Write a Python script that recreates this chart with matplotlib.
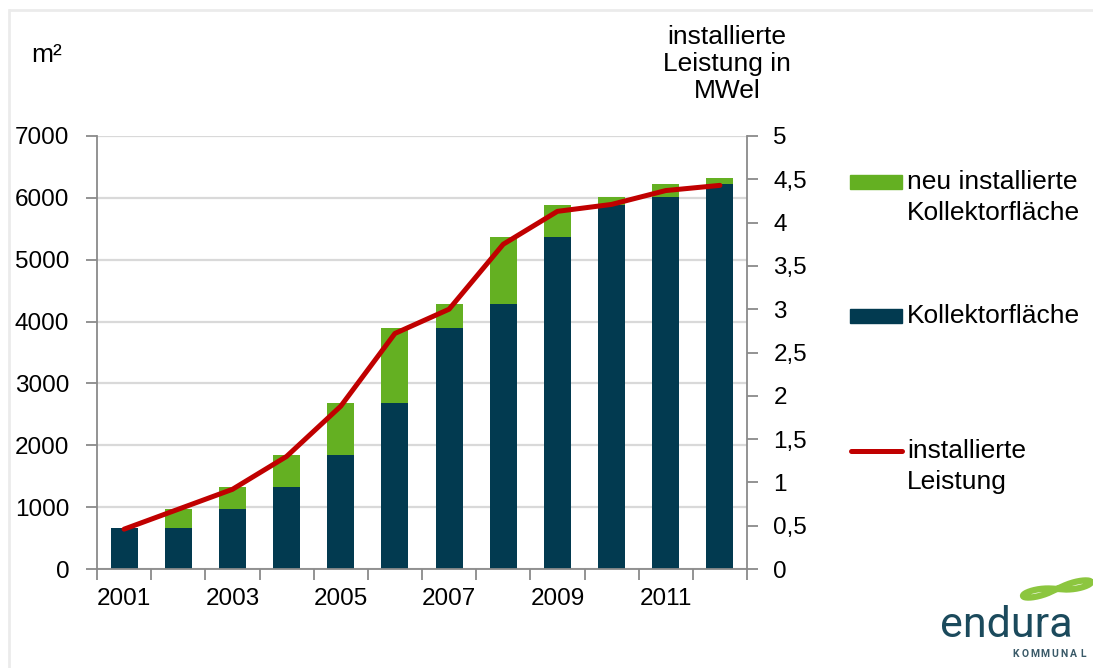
import numpy as np
import matplotlib
matplotlib.use("Agg")
import matplotlib.pyplot as plt
from matplotlib.patches import Rectangle
from matplotlib.lines import Line2D

plt.rcParams['font.family'] = ['Liberation Sans', 'DejaVu Sans']

# Solaranlagen 2001-2012
jahre = [2001, 2002, 2003, 2004, 2005, 2006, 2007, 2008, 2009, 2010, 2011, 2012]
kollektorflaeche = [660, 660, 970, 1320, 1850, 2690, 3890, 4290, 5360, 5890, 6020, 6220]
neu_installiert = [0, 310, 350, 530, 840, 1200, 400, 1070, 530, 130, 200, 100]
leistung_mwel = [0.46, 0.69, 0.92, 1.30, 1.88, 2.72, 3.00, 3.75, 4.13, 4.21, 4.37, 4.43]

links_ticks = [0, 1000, 2000, 3000, 4000, 5000, 6000, 7000]
rechts_ticks = [0, 0.5, 1, 1.5, 2, 2.5, 3, 3.5, 4, 4.5, 5]

NAVY = '#023a50'
GRUEN = '#64b022'
ROT = '#c00000'
GRAU = '#8a8a8a'
GITTER = '#d9d9d9'
FS = 17.5   # Achsenbeschriftung
FL = 19     # Legende und Achsentitel

W, H = 1093, 668
fig = plt.figure(figsize=(W / 100, H / 100), dpi=100)

def fx(px):
    return px / W

def fy(py):
    return 1 - py / H

# heller Rahmen um die Folie
fig.add_artist(Line2D([fx(10), 1.0], [fy(10), fy(10)], color='#ebebeb', lw=2))
fig.add_artist(Line2D([fx(9), fx(9)], [fy(10), 0.0], color='#ebebeb', lw=2))

ax = fig.add_axes([fx(97), fy(569), fx(650), 433 / H])
x = np.arange(len(jahre))
ax.bar(x, kollektorflaeche, width=0.5, color=NAVY, zorder=2)
ax.bar(x, neu_installiert, width=0.5, bottom=kollektorflaeche, color=GRUEN, zorder=2)

ax.set_xlim(-0.5, len(jahre) - 0.5)
ax.set_ylim(0, 7000)
ax.set_yticks(links_ticks)
ax.set_yticklabels([str(v) for v in links_ticks], fontsize=FS)
ax.yaxis.grid(True, color=GITTER, lw=1.6)
ax.set_axisbelow(True)

# Striche an den Kategoriegrenzen, Jahreszahlen in der Mitte
ax.set_xticks(np.arange(-0.5, len(jahre), 1.0))
ax.set_xticklabels([])
ax.set_xticks(x, minor=True)
ax.set_xticklabels([str(j) if j % 2 == 1 else '' for j in jahre], minor=True, fontsize=FS)
ax.tick_params(axis='x', which='major', length=8, width=1.3, color=GRAU, direction='out')
ax.tick_params(axis='x', which='minor', length=0, pad=14)
ax.tick_params(axis='y', length=8, width=1.3, color=GRAU, pad=12)

for s in ['top', 'right']:
    ax.spines[s].set_visible(False)
for s in ['left', 'bottom']:
    ax.spines[s].set_color(GRAU)
    ax.spines[s].set_linewidth(1.3)

ax2 = ax.twinx()
ax2.plot(x, leistung_mwel, color=ROT, lw=3.6, solid_capstyle='round', zorder=3)
ax2.set_ylim(0, 5)
ax2.set_yticks(rechts_ticks)
ax2.set_yticklabels([('%g' % v).replace('.', ',') for v in rechts_ticks], fontsize=FS)
ax2.tick_params(axis='y', length=8, width=1.3, color=GRAU, pad=11)
for s in ['top', 'left', 'bottom']:
    ax2.spines[s].set_visible(False)
ax2.spines['right'].set_color(GRAU)
ax2.spines['right'].set_linewidth(1.3)

# Achsentitel
fig.text(fx(47), fy(55), 'm²', fontsize=FL, ha='center', va='center')
fig.text(fx(727), fy(64), 'installierte\nLeistung in\nMWel', fontsize=FL,
         ha='center', va='center', linespacing=1.15)

# Legende
fig.add_artist(Rectangle((fx(850), fy(189)), fx(52), 14 / H, color=GRUEN))
fig.text(fx(907), fy(182), 'neu installierte', fontsize=FL, va='center')
fig.text(fx(907), fy(213), 'Kollektorfläche', fontsize=FL, va='center')
fig.add_artist(Rectangle((fx(850), fy(323)), fx(52), 14 / H, color=NAVY))
fig.text(fx(907), fy(316), 'Kollektorfläche', fontsize=FL, va='center')
fig.add_artist(Line2D([fx(851), fx(902)], [fy(451), fy(451)], color=ROT, lw=3.6,
                      solid_capstyle='round'))
fig.text(fx(907), fy(451), 'installierte', fontsize=FL, va='center')
fig.text(fx(907), fy(482), 'Leistung', fontsize=FL, va='center')

# Logo
t = np.linspace(0, 2 * np.pi, 200)
lx = 1057 + 34 * np.cos(t) / (1 + np.sin(t) ** 2)
ly = 589 - 10 * np.sin(t) * np.cos(t) / (1 + np.sin(t) ** 2) - 0.2 * (lx - 1057)
fig.add_artist(Line2D(fx(lx), fy(ly), color='#8cc63f', lw=4.5))
fig.text(fx(940), fy(637), 'endura', fontsize=31, color='#1b4a5c',
         family=['Roboto', 'DejaVu Sans'], va='baseline')
# gesperrte Schrift: Buchstaben einzeln setzen
for i, buchstabe in enumerate('KOMMUNAL'):
    fig.text(fx(1016 + i * 9.6), fy(657), buchstabe, fontsize=7.5, color='#3a5a68',
             family=['Roboto', 'DejaVu Sans'], va='baseline', ha='center',
             fontweight='bold')

fig.savefig('out.png', dpi=100)
